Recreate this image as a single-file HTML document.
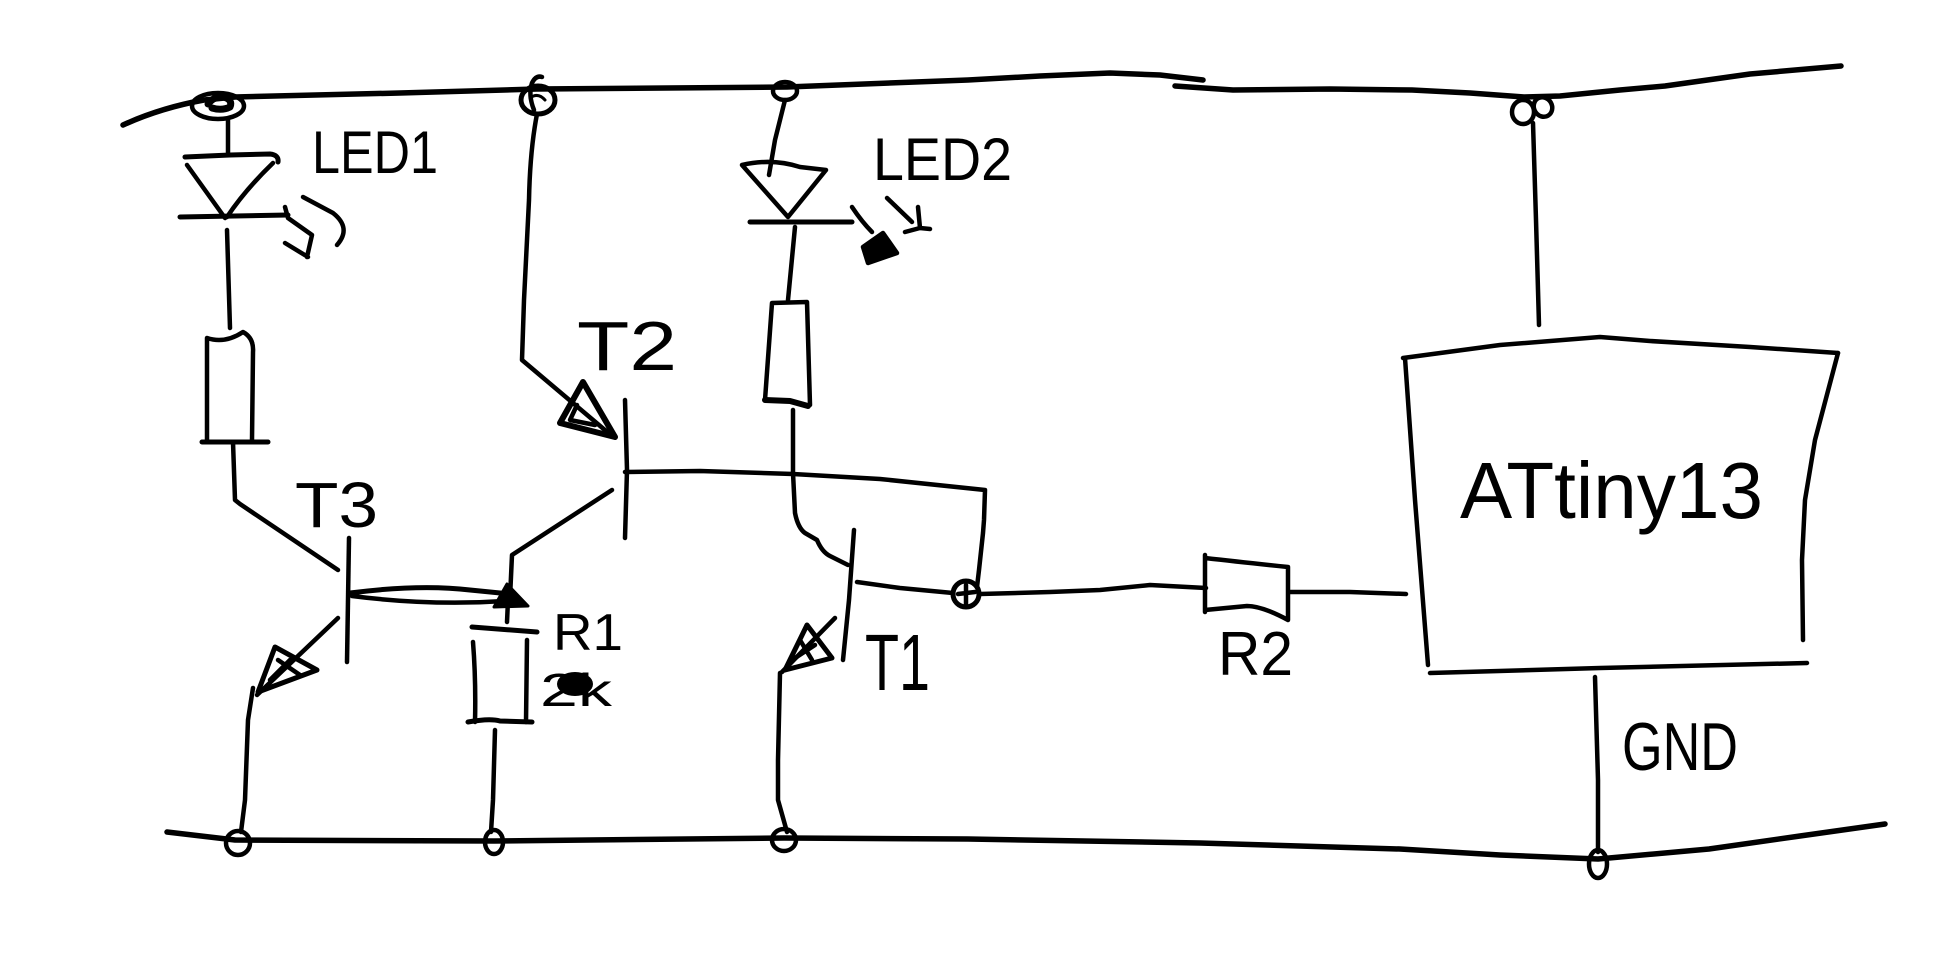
<!DOCTYPE html>
<html><head><meta charset="utf-8"><style>html,body{margin:0;padding:0;background:#fff;width:1937px;height:964px;overflow:hidden}svg{display:block}</style></head>
<body>
<svg width="1937" height="964" viewBox="0 0 1937 964" xmlns="http://www.w3.org/2000/svg">
<rect x="0" y="0" width="1937" height="964" fill="#fff"/>
<g fill="none" stroke="#000" stroke-linecap="round" stroke-linejoin="round" stroke-width="4.5">
<!-- top rail -->
<path stroke-width="5.5" d="M123,125 Q160,108 204,100 L235,97 L400,93 L537,89 L787,87 L968,80 L1040,76 L1110,73 L1160,75 L1203,80"/>
<path stroke-width="5.5" d="M1175,86 L1233,90 L1330,89 L1412,90 L1470,93 L1524,97 L1560,96 L1620,90 L1665,86 L1750,74 L1841,66"/>
<!-- top nodes -->
<ellipse cx="218" cy="106" rx="26" ry="13"/>
<path stroke-width="7" d="M208,104 Q214,96 224,97 Q233,100 230,107 Q222,111 212,108"/>
<ellipse cx="538" cy="100" rx="17" ry="14" stroke-width="5"/>
<path d="M534,110 Q528,95 532,83 Q536,75 542,77"/>
<path stroke-width="3" d="M530,98 Q538,92 545,100"/>
<ellipse cx="785" cy="91" rx="12" ry="9"/>
<ellipse cx="1523" cy="112" rx="11" ry="12"/>
<ellipse cx="1543" cy="107" rx="9" ry="10" transform="rotate(-30 1543 107)"/>
<!-- bottom rail -->
<path stroke-width="5.5" d="M167,832 L235,840 L494,841 L784,838 L968,839 L1200,843 L1400,849 L1500,855 L1598,859 L1709,849 L1800,836 L1885,824"/>
<ellipse cx="238" cy="843" rx="12" ry="12"/>
<ellipse cx="494" cy="842" rx="9" ry="12"/>
<ellipse cx="784" cy="840" rx="12" ry="11"/>
<ellipse cx="1598" cy="864" rx="9" ry="14"/>
<!-- LED1 -->
<path d="M228,120 L228,153"/>
<path stroke-width="5" d="M185,157 L230,155 L270,154 Q279,155 278,162"/>
<path d="M187,165 Q205,190 225,218 M273,163 Q245,190 227,217"/>
<path stroke-width="5" d="M180,217 L288,215"/>
<path d="M227,230 L230,328"/>
<path d="M285,207 L288,218 L312,235 L307,257 M285,243 L308,257"/>
<path d="M303,197 L333,213 Q352,228 337,245"/>
<!-- LED1 resistor -->
<path d="M207,440 L207,338 Q225,344 243,332 Q254,338 253,352 L252,440"/>
<path stroke-width="5" d="M202,442 L268,442"/>
<path d="M233,442 L235,500 L240,504 L338,570"/>
<!-- T3 -->
<path d="M349,538 L348,600 L347,662"/>
<path stroke-width="5" d="M350,593 Q420,584 470,590 L510,594"/>
<path d="M352,596 Q430,606 505,601"/>
<path d="M338,618 L257,695"/>
<path stroke-width="5" d="M275,647 L317,670 L258,692 Z"/>
<path d="M278,660 L300,675 M270,680 L290,660"/>
<path d="M253,688 L248,720 L245,800 L241,832"/>
<!-- T2 -->
<path d="M537,114 Q530,150 529,200 L524,300 L522,360 L612,436"/>
<path stroke-width="6" d="M583,382 L560,423 L615,437 Z"/>
<path d="M577,405 L570,420 L595,425"/>
<path d="M625,400 L627,470 L625,538"/>
<path d="M612,490 L512,555 L510,598"/>
<path fill="#000" stroke-width="3" d="M507,584 L528,606 L494,607 Z"/>
<path d="M625,472 L700,471 L793,474 L880,479 L985,490 L984,520 L983,533 L979,570 L977,587"/>
<ellipse cx="966" cy="594" rx="13" ry="13" stroke-width="5"/>
<path d="M958,594 L975,592 M966,585 L966,604"/>
<!-- R1 -->
<path d="M508,600 L507,622"/>
<path stroke-width="5" d="M472,627 L537,632"/>
<path d="M473,642 Q476,680 475,722 M527,640 L526,722"/>
<path stroke-width="5" d="M468,722 Q490,718 500,721 L532,722"/>
<path d="M495,730 L493,800 L491,832"/>
<!-- LED2 -->
<path d="M785,100 L775,140 L769,175"/>
<path d="M742,165 Q772,158 800,167 L826,170 M742,165 L788,217 M826,170 L788,217"/>
<path stroke-width="5" d="M750,222 L852,222"/>
<path d="M795,227 L788,300"/>
<path d="M772,303 L807,302 L810,405 M772,303 L765,400"/>
<path stroke-width="6" d="M765,400 L790,401 L808,406"/>
<path d="M793,410 L793,473 L795,513 Q798,528 805,533 L817,540 Q822,552 830,556 L848,565"/>
<path d="M852,207 Q862,222 872,232"/>
<path fill="#000" d="M863,247 L883,233 L897,253 L868,263 Z"/>
<path d="M887,198 L912,222 M918,207 L920,228 L905,232 M920,228 L930,229"/>
<!-- T1 -->
<path d="M854,530 L849,600 L843,660"/>
<path d="M857,582 L900,588 L953,593"/>
<path d="M980,594 L1050,592 L1100,590 L1150,585 L1206,588"/>
<path d="M835,618 L782,672"/>
<path stroke-width="5" d="M807,625 L832,658 L785,670 Z"/>
<path d="M800,640 L812,660 M792,660 L815,645"/>
<path d="M780,673 L778,760 L778,800 L787,832"/>
<!-- R2 -->
<path d="M1205,555 L1205,612 M1205,558 Q1240,562 1288,567 L1288,620 Q1262,606 1247,606 L1205,610"/>
<path d="M1290,592 L1350,592 L1406,594"/>
<!-- ATtiny box -->
<path d="M1403,358 L1500,345 L1600,337 L1650,341 L1750,347 L1838,353"/>
<path d="M1838,353 L1815,440 L1805,500 L1802,560 L1803,640"/>
<path d="M1405,358 L1415,500 L1428,665"/>
<path d="M1430,673 L1600,668 L1807,663"/>
<path d="M1533,123 L1536,220 L1539,325"/>
<path d="M1595,677 L1598,780 L1598,852"/>
</g>
<!-- 2k scribble blob -->
<ellipse cx="575" cy="684" rx="18" ry="12" fill="#000"/>
<g font-family="'Liberation Sans', sans-serif" fill="#000">
<text x="312" y="173" font-size="60" textLength="126" lengthAdjust="spacingAndGlyphs">LED1</text>
<text x="873" y="180" font-size="60" textLength="139" lengthAdjust="spacingAndGlyphs">LED2</text>
<text x="577" y="370" font-size="70" textLength="100" lengthAdjust="spacingAndGlyphs">T2</text>
<text x="295" y="527" font-size="64" textLength="83" lengthAdjust="spacingAndGlyphs">T3</text>
<text x="553" y="650" font-size="52" textLength="70" lengthAdjust="spacingAndGlyphs">R1</text>
<text x="540" y="706" font-size="46" textLength="72" lengthAdjust="spacingAndGlyphs">2k</text>
<text x="865" y="690" font-size="80" textLength="65" lengthAdjust="spacingAndGlyphs">T1</text>
<text x="1218" y="675" font-size="62" textLength="75" lengthAdjust="spacingAndGlyphs">R2</text>
<text x="1460" y="518" font-size="80" textLength="303" lengthAdjust="spacingAndGlyphs">ATtiny13</text>
<text x="1622" y="770" font-size="68" textLength="116" lengthAdjust="spacingAndGlyphs">GND</text>
</g>
</svg>
</body></html>
